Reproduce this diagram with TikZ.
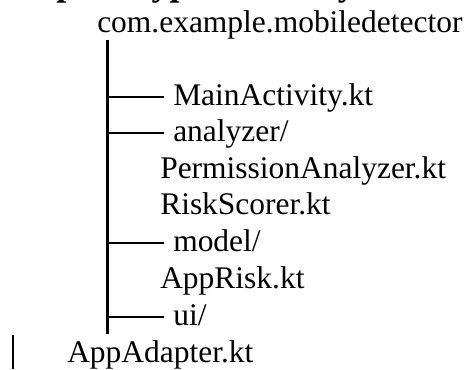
\documentclass[tikz,border=0pt]{standalone}
\usepackage{fontspec}
\setmainfont{Liberation Serif}
\begin{document}
\begin{tikzpicture}[x=0.75pt,y=-0.75pt,
  entry/.style={inner sep=0pt, anchor=base west, font=\fontsize{23.6}{28}\selectfont,
                text height=17pt, text depth=5pt},
  heading/.style={inner sep=0pt, anchor=base west, font=\fontsize{27}{32}\selectfont\bfseries},
  trunk/.style={line width=1.6pt},
  branch/.style={line width=1.6pt, shorten >=6.75pt}]
  \useasboundingbox (0,0) rectangle (470,369);
  \clip (0,0) rectangle (470,369);

  % heading, mostly above the top edge
  \node[heading] (title) at (56,-5) {prototype directory};

  % package root and its entries
  \node[entry] (root) at (97,32) {com.example.mobiledetector};
  \node[entry] (main) at (173,105) {MainActivity.kt};
  \node[entry] (analyzer) at (173,141) {analyzer/};
  \node[entry] (perm) at (160,178) {PermissionAnalyzer.kt};
  \node[entry] (risk) at (160,214) {RiskScorer.kt};
  \node[entry] (model) at (173,251) {model/};
  \node[entry] (apprisk) at (160,288) {AppRisk.kt};
  \node[entry] (ui) at (173,325) {ui/};
  \node[entry] (adapter) at (67,362) {AppAdapter.kt};

  % vertical trunk of the tree
  \coordinate (trunkTop) at (107.5,40);
  \coordinate (trunkEnd) at (107.5,334);
  \draw[trunk] (trunkTop) -- (trunkEnd);

  % branches to the listed entries
  \draw[branch] (trunkTop |- main.west) -- (main.west);
  \draw[branch] (trunkTop |- analyzer.west) -- (analyzer.west);
  \draw[branch] (trunkTop |- model.west) -- (model.west);
  \draw[branch] (trunkTop |- ui.west) -- (ui.west);

  % bar in front of the last file
  \coordinate (barTop) at (13,335);
  \coordinate (barEnd) at (13,369);
  \draw[trunk] (barTop) -- (barEnd);
\end{tikzpicture}
\end{document}
